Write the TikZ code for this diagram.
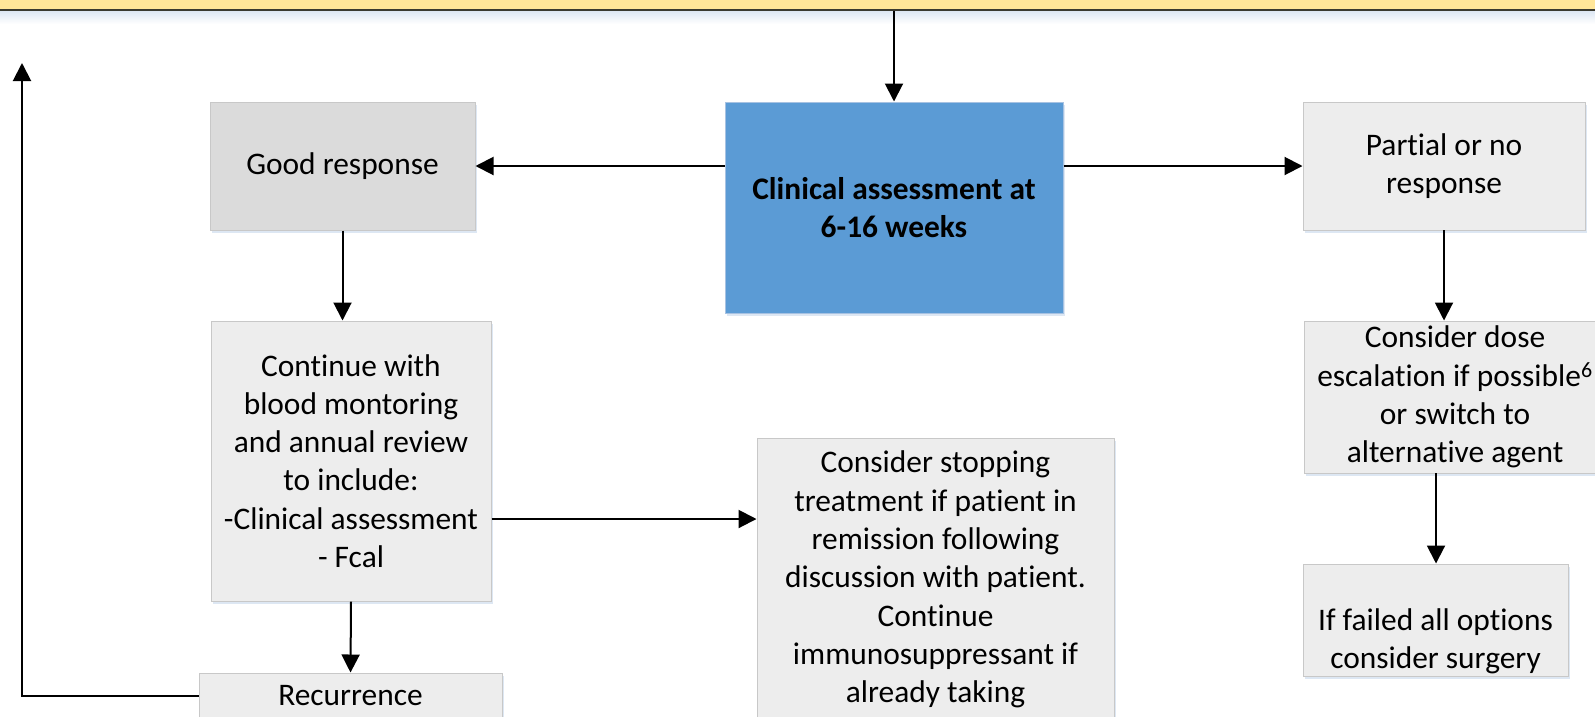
\documentclass[tikz,border=0pt]{standalone}
\usepackage{fontspec}
\setmainfont{Carlito}[Ligatures={NoCommon,NoContextual}]
\usetikzlibrary{arrows.meta,shadows}
\definecolor{bandyellow}{HTML}{FFE699}
\definecolor{bandedge}{HTML}{3A3A30}
\definecolor{haze}{HTML}{DDE7F3}
\definecolor{boxgrey}{HTML}{EDEDED}
\definecolor{goodgrey}{HTML}{DBDBDB}
\definecolor{boxedge}{HTML}{C8C8C8}
\definecolor{assessblue}{HTML}{5B9BD5}
\definecolor{assessedge}{HTML}{A7C2E2}
% keep "t" and "i" as separate glyphs
\newcommand\tisep{t\kern0pt i}
\begin{document}
\begin{tikzpicture}[x=1pt,y=-1pt,
  arr/.style={line width=2pt,-{Triangle[length=18pt,width=18pt]}},
  txt/.style={inner sep=0pt,align=center,font=\fontsize{31.4}{38.3}\selectfont},
  box/.style={txt,draw=boxedge,line width=1pt,fill=boxgrey,
    drop shadow={shadow xshift=1.5pt,shadow yshift=-3pt,fill=haze,opacity=1}},
]
\useasboundingbox (0,0) rectangle (1595,716);
\clip (0,0) rectangle (1595,716);

% header band along the top edge
\fill[bandyellow] (0,-5) rectangle (1595,10);
\shade[top color=haze,bottom color=white] (0,11) rectangle (1595,24);
\draw[line width=1.5pt,bandedge] (0,10) -- (1595,10);
\coordinate (bandfoot) at (893,11);

% boxes
\node[box,draw=assessedge,fill=assessblue,minimum width=338pt,minimum height=211pt,
      font=\fontsize{31.4}{38.3}\selectfont\bfseries] (clin) at (894,207.5)
  {Clinical assessment at\\6-16 weeks};
\node[box,fill=goodgrey,minimum width=265pt,minimum height=128pt] (good) at (342.5,166)
  {Good response};
\node[box,minimum width=282pt,minimum height=128pt] (part) at (1444,166)
  {Par\tisep al or no\\response};
\node[box,minimum width=280pt,minimum height=280pt] (cont) at (351,461)
  {Con\tisep nue with\\blood montoring\\and annual review\\to include:\\-Clinical assessment\\- Fcal};
\node[box,minimum width=357pt,minimum height=283pt] (stop) at (935.5,579.5)
  {Consider stopping\\treatment if pa\tisep ent in\\remission following\\discussion with pa\tisep ent.\\Con\tisep nue\\immunosuppressant if\\already taking};
\node[box,minimum width=303pt,minimum height=46pt] (rec) at (350.5,696)
  {Recurrence};
\node[box,minimum width=302pt,minimum height=152pt] (dose) at (1455,397)
  {Consider dose\\escala\tisep on if possible\textsuperscript{6}\\or switch to\\alterna\tisep ve agent};
\node[box,minimum width=265pt,minimum height=112pt] (fail) at (1435.5,620) {};
\node[txt] (failtext) at (1435.5,641) {If failed all op\tisep ons\\consider surgery};

% connectors
\coordinate (back) at (22,63);
\draw[arr] (bandfoot -| clin.north) -- (clin.north);
\draw[arr] (clin.west |- good.east) -- (good.east);
\draw[arr] (clin.east |- part.west) -- (part.west);
\draw[arr] (good.south) -- (good.south |- cont.north);
\draw[arr] (cont.south) -- (rec.north);
\draw[arr] (cont.east |- 0,519) -- (stop.west |- 0,519);
\draw[arr] (rec.west) -| (back);
\draw[arr] (1444,230) coordinate (partfoot) -- (partfoot |- dose.north);
\draw[arr] (1436,473) coordinate (dosefoot) -- (dosefoot |- fail.north);
\end{tikzpicture}
\end{document}
